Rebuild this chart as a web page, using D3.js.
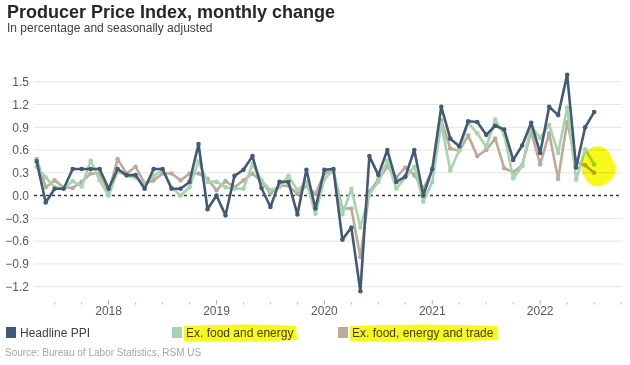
<!DOCTYPE html>
<html>
<head>
<meta charset="utf-8">
<script src="https://cdn.jsdelivr.net/npm/d3@7"></script>
<style>
  html, body { margin: 0; padding: 0; background: #fff; }
  svg { display: block; font-family: "Liberation Sans", Arial, sans-serif; }
</style>
</head>
<body>
<svg id="chart" width="630" height="365"></svg>
<script>
// ---- Data ----
const months = d3.timeMonth.range(new Date(2017, 3, 1), new Date(2022, 6, 1)).map(d3.timeFormat("%Y-%m"));
const headline = [0.45,-0.09,0.09,0.09,0.35,0.35,0.35,0.35,0.09,0.35,0.27,0.27,0.09,0.35,0.35,0.09,0.09,0.18,0.68,-0.18,0.00,-0.26,0.26,0.34,0.52,0.10,-0.15,0.18,0.18,-0.25,0.34,-0.17,0.34,0.35,-0.58,-0.42,-1.26,0.52,0.27,0.60,0.18,0.25,0.60,0.00,0.35,1.17,0.75,0.65,0.98,0.97,0.80,0.92,0.87,0.47,0.66,0.96,0.56,1.17,1.06,1.59,0.37,0.90,1.10];
const exFoodEnergy = [0.38,0.24,0.11,0.10,0.19,0.12,0.46,0.20,0.00,0.32,0.26,0.24,0.15,0.26,0.34,0.11,0.00,0.11,0.45,0.18,0.18,0.11,0.09,0.09,0.42,0.20,0.07,0.11,0.26,0.07,0.18,-0.24,0.22,0.33,-0.25,0.09,-0.42,0.02,0.18,0.46,0.09,0.24,0.38,-0.08,0.18,0.95,0.33,0.60,0.96,0.82,0.64,1.00,0.80,0.23,0.39,0.91,0.76,0.93,0.56,1.16,0.21,0.61,0.41];
const exFoodEnergyTrade = [0.48,0.11,0.20,0.11,0.10,0.18,0.29,0.29,0.05,0.48,0.29,0.38,0.16,0.20,0.29,0.29,0.20,0.29,0.29,0.22,0.07,0.19,0.11,0.20,0.29,0.19,0.03,0.13,0.13,0.02,0.13,0.02,0.29,0.33,-0.17,-0.17,-0.81,0.05,0.21,0.38,0.24,0.37,0.27,0.09,0.33,0.99,0.62,0.59,0.79,0.52,0.60,0.75,0.36,0.31,0.40,0.84,0.41,0.82,0.22,0.97,0.44,0.40,0.30];
const yTicks = [-1.2,-0.9,-0.6,-0.3,0.0,0.3,0.6,0.9,1.2,1.5];
const yearLabels = ["2018","2019","2020","2021","2022"];
const yearLabelMonths = ["2017-12","2018-12","2019-12","2020-12","2021-12"];
const seriesNames = ["Headline PPI","Ex. food and energy","Ex. food, energy and trade"];
const seriesColors = ["#435a75","#a6d4ae","#bcab9b"];

// ---- Setup ----
const svg = d3.select("#chart");
const x = d3.scaleLinear().domain([-0.3, 65.1]).range([34, 622]);
const y = d3.scaleLinear().domain([-1.2, 1.5]).range([286.7, 81.7]);
const idx = m => months.indexOf(m);

// Title
svg.append("text").attr("x", 7).attr("y", 18).attr("font-size", 18).attr("font-weight", "bold")
  .attr("fill", "#262626").text("Producer Price Index, monthly change");
svg.append("text").attr("x", 7).attr("y", 32).attr("font-size", 12)
  .attr("fill", "#404040").text("In percentage and seasonally adjusted");

// Gridlines
const [gx0, gx1] = x.range();
svg.append("g").selectAll("line").data(yTicks.filter(d => d !== 0)).join("line")
  .attr("x1", gx0).attr("x2", gx1).attr("y1", d => y(d)).attr("y2", d => y(d))
  .attr("stroke", "#e4e4e4").attr("stroke-width", 1);

// Y axis labels
const yAxis = d3.axisLeft(y).tickValues(yTicks).tickFormat(d3.format(".1f")).tickSize(0).tickPadding(0);
const yg = svg.append("g").attr("transform", "translate(29,0)").call(yAxis);
yg.select(".domain").remove();
yg.selectAll("text").attr("font-size", 12).attr("fill", "#595959").attr("font-family", "Liberation Sans, Arial, sans-serif");

// Zero line
svg.append("line").attr("x1", gx0).attr("x2", gx1).attr("y1", y(0)).attr("y2", y(0))
  .attr("stroke", "#3a3a3a").attr("stroke-width", 1.5).attr("stroke-dasharray", "3,3");

// X ticks (quarterly) and year labels
const tickIdx = d3.range(2, 66, 3);
const majorIdx = yearLabelMonths.map(idx);
svg.append("g").selectAll("line").data(tickIdx).join("line")
  .attr("x1", d => x(d)).attr("x2", d => x(d))
  .attr("y1", d => majorIdx.includes(d) ? 300 : 302.5).attr("y2", 304.5)
  .attr("stroke", "#b0b0b0").attr("stroke-width", 1);
svg.append("g").selectAll("text").data(yearLabels).join("text")
  .attr("x", (d, i) => x(majorIdx[i])).attr("y", 314.5).attr("text-anchor", "middle")
  .attr("font-size", 12).attr("fill", "#595959").text(d => d);

// Lines
const allSeries = [headline, exFoodEnergy, exFoodEnergyTrade];
const line = d3.line().x((d, i) => x(i)).y(d => y(d));
const drawOrder = [2, 1, 0];
drawOrder.forEach(s => {
  const g = svg.append("g");
  g.append("path").datum(allSeries[s]).attr("d", line).attr("fill", "none")
    .attr("stroke", seriesColors[s]).attr("stroke-width", 2.6).attr("stroke-linejoin", "round");
  g.selectAll("circle").data(allSeries[s]).join("circle")
    .attr("cx", (d, i) => x(i)).attr("cy", d => y(d)).attr("r", 2.3).attr("fill", seriesColors[s]);
});

// Legend
const legendX = [6, 172, 338];
const lg = svg.append("g");
seriesNames.forEach((n, i) => {
  lg.append("rect").attr("x", legendX[i]).attr("y", 327).attr("width", 10).attr("height", 11).attr("fill", seriesColors[i]);
  lg.append("text").attr("x", legendX[i] + 14).attr("y", 337).attr("font-size", 12).attr("fill", "#404040").text(n);
});

// Source
svg.append("text").attr("x", 5).attr("y", 356).attr("font-size", 10).attr("fill", "#a6a6a6")
  .text("Source: Bureau of Labor Statistics, RSM US");

// Yellow highlighter marks
const hl = svg.append("g").style("mix-blend-mode", "multiply");
hl.append("path").attr("fill", "#f8f81c")
  .attr("d", "M184,326 Q240,323 296,326 L297,340 Q240,343 184,341 Z");
hl.append("path").attr("fill", "#f8f81c")
  .attr("d", "M350,326 Q420,323 497,326 L498,340 Q420,343 350,341 Z");
hl.append("path").attr("fill", "#f8f81c")
  .attr("d", "M588,150 C598,142 610,148 612,160 C618,166 616,178 608,182 C600,190 588,186 585,178 C579,170 580,156 588,150 Z");
</script>
</body>
</html>
